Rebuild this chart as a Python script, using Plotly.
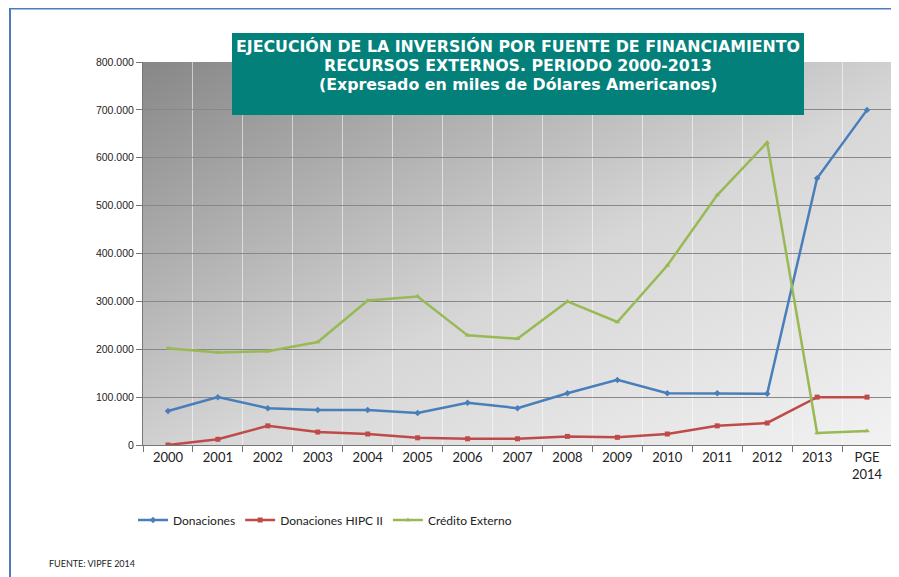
import base64
import plotly.graph_objects as go

# ---- Data (miles de USD) ----
years = ['2000', '2001', '2002', '2003', '2004', '2005', '2006', '2007',
         '2008', '2009', '2010', '2011', '2012', '2013', 'PGE<br>2014']
donaciones = [71000, 100000, 77000, 73000, 73000, 67000, 88000, 77000,
              108000, 136000, 108000, 108000, 107000, 557000, 700000]
hipc = [0, 12000, 40000, 27000, 23000, 15000, 13000, 13000,
        18000, 16000, 23000, 40000, 46000, 100000, 100000]
credito = [202000, 193000, 196000, 215000, 302000, 310000, 229000, 222000,
           300000, 257000, 375000, 522000, 632000, 25000, 29000]

# the page puts the figure 8px in from the top-left corner
OFF = 8
W, H = 899 - OFF, 577 - OFF
L, R, T, B = 143 - OFF, 892 - OFF, 62 - OFF, 445 - OFF  # plot area


def px_x(p):
    return (p - OFF - L) / (R - L)


def px_y(p):
    return (B - (p - OFF)) / (B - T)


# gradient background for the plot area
svg = ('<svg xmlns="http://www.w3.org/2000/svg" width="100" height="100" preserveAspectRatio="none">'
       '<defs><linearGradient id="g" x1="0" y1="0" x2="1" y2="1">'
       '<stop offset="0" stop-color="rgb(135,135,135)"/>'
       '<stop offset="0.55" stop-color="rgb(215,215,215)"/>'
       '<stop offset="1" stop-color="rgb(242,242,242)"/>'
       '</linearGradient></defs><rect width="100" height="100" fill="url(#g)"/></svg>')
bg_src = 'data:image/svg+xml;base64,' + base64.b64encode(svg.encode()).decode()

fig = go.Figure()

series = [
    ('Donaciones', donaciones, '#4a7ebb', 'diamond'),
    ('Donaciones HIPC II', hipc, '#be4b48', 'square'),
    ('Crédito Externo', credito, '#98b954', 'triangle-up'),
]
for name, vals, color, sym in series:
    fig.add_trace(go.Scatter(
        x=years, y=vals, name=name, mode='lines+markers',
        line=dict(color=color, width=2.5),
        marker=dict(symbol=sym, size=5, color=color),
    ))

fig.update_layout(
    width=W, height=H,
    margin=dict(l=L, r=W - R, t=T, b=H - B),
    paper_bgcolor='white',
    plot_bgcolor='rgba(0,0,0,0)',
    separators=',.',
    font=dict(family='Lato, Liberation Sans, sans-serif', color='#222'),
    showlegend=True,
    legend=dict(orientation='h', xref='container', yref='container',
                x=(133 - OFF) / W, y=1 - (520 - OFF) / H,
                xanchor='left', yanchor='middle',
                font=dict(size=12, color='#222'), bgcolor='rgba(0,0,0,0)',
                itemwidth=30, tracegroupgap=0),
    images=[dict(source=bg_src, xref='paper', yref='paper', x=0, y=1,
                 sizex=1, sizey=1, sizing='stretch', layer='below')],
)

fig.update_xaxes(
    type='category', tickson='boundaries', ticks='outside', ticklen=6,
    tickcolor='#777', showline=True, linecolor='#777', linewidth=1,
    showgrid=True, gridcolor='rgba(255,255,255,0.55)', gridwidth=1,
    tickfont=dict(size=13, color='#222'), range=[-0.5, 14.5],
)
fig.update_yaxes(
    range=[0, 800000], dtick=100000, tickformat=',d',
    ticks='outside', ticklen=6, tickcolor='#777',
    showline=True, linecolor='#777', linewidth=1,
    showgrid=True, gridcolor='#888', gridwidth=1, zeroline=False,
    tickfont=dict(family='Liberation Sans, sans-serif', size=10.5, color='#222'),
)

# slide frame (blue top and left border)
fig.add_shape(type='line', xref='paper', yref='paper',
              x0=px_x(10), x1=px_x(905), y0=px_y(8), y1=px_y(8),
              line=dict(color='#4f7ac0', width=3))
fig.add_shape(type='line', xref='paper', yref='paper',
              x0=px_x(10), x1=px_x(10), y0=px_y(7), y1=px_y(590),
              line=dict(color='#4f7ac0', width=2))

# title box
fig.add_shape(type='rect', xref='paper', yref='paper',
              x0=px_x(232), x1=px_x(804), y0=px_y(115), y1=px_y(33),
              fillcolor='#03807a', line=dict(width=0), layer='above')
title_lines = ['EJECUCIÓN DE LA INVERSIÓN POR FUENTE DE FINANCIAMIENTO',
               'RECURSOS EXTERNOS. PERIODO 2000-2013',
               '(Expresado en miles de Dólares Americanos)']
for line, yc in zip(title_lines, [46, 65, 84]):
    fig.add_annotation(
        xref='paper', yref='paper', x=px_x(518), y=px_y(yc), showarrow=False,
        text=f'<b>{line}</b>', xanchor='center', yanchor='middle',
        height=18, valign='middle',
        font=dict(family='DejaVu Sans, sans-serif', size=15.8, color='white'),
    )

# source note
fig.add_annotation(
    xref='paper', yref='paper', x=px_x(47), y=px_y(563), showarrow=False,
    text='FUENTE: VIPFE 2014', xanchor='left', yanchor='middle',
    font=dict(family='Lato, Liberation Sans, sans-serif', size=9, color='#222'),
)

fig.write_html('out.html')
